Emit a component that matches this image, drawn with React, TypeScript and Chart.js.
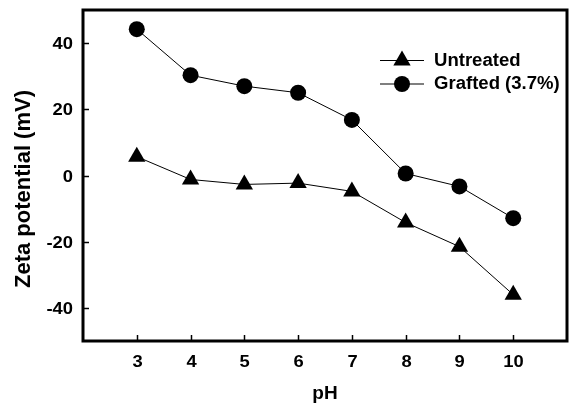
import React, { useEffect, useRef } from "react";
import { Chart, registerables } from "chart.js";

Chart.register(...registerables);

const phValues = [3, 4, 5, 6, 7, 8, 9, 10];
const untreated = [5.7, -1.2, -2.7, -2.3, -4.8, -14.2, -21.5, -36];
const grafted = [44.2, 30.3, 27, 25, 16.8, 0.6, -3.3, -12.9];
const xTicks = [3, 4, 5, 6, 7, 8, 9, 10];
const yTicks = [-40, -20, 0, 20, 40];
const seriesLabels = ["Untreated", "Grafted (3.7%)"];
const xTitle = "pH";
const yTitle = "Zeta potential (mV)";

const FONT = "'Liberation Sans', Arial, sans-serif";

function drawText(
  ctx: CanvasRenderingContext2D,
  text: string,
  x: number,
  y: number,
  size: number,
  align: CanvasTextAlign,
  sx = 1,
  rot = 0
) {
  ctx.save();
  ctx.translate(x, y);
  if (rot) ctx.rotate(rot);
  ctx.scale(sx, 1);
  ctx.font = `bold ${size}px ${FONT}`;
  ctx.textAlign = align;
  ctx.textBaseline = "middle";
  ctx.fillStyle = "#000";
  ctx.fillText(text, 0, 0);
  ctx.restore();
}

const framePlugin = {
  id: "frame",
  afterDraw(chart: any) {
    const { ctx, chartArea } = chart;
    const { left, right, top, bottom } = chartArea;
    ctx.save();
    ctx.strokeStyle = "#000";
    ctx.lineWidth = 3;
    ctx.strokeRect(left, top, right - left, bottom - top);
    ctx.lineWidth = 1.5;
    const xs = chart.scales.x;
    const ys = chart.scales.y;
    xTicks.forEach((v) => {
      const px = Math.round(xs.getPixelForValue(v)) + 0.5;
      ctx.beginPath();
      ctx.moveTo(px, bottom);
      ctx.lineTo(px, bottom - 6);
      ctx.stroke();
      drawText(ctx, String(v), px, bottom + 21, 17, "center", 1.08);
    });
    yTicks.forEach((v) => {
      const py = Math.round(ys.getPixelForValue(v)) + 0.5;
      ctx.beginPath();
      ctx.moveTo(left, py);
      ctx.lineTo(left + 6, py);
      ctx.stroke();
      drawText(ctx, String(v), left - 10, py + 1, 17, "right", 1.08);
    });
    drawText(ctx, xTitle, (left + right) / 2, 394, 19, "center");
    drawText(ctx, yTitle, 24, 189, 22, "center", 1, -Math.PI / 2);
    // legend
    const lx0 = 380;
    const lx1 = 424;
    const rows = [60.5, 84];
    chart.data.datasets.forEach((ds: any, i: number) => {
      const y = rows[i];
      ctx.strokeStyle = "#000";
      ctx.lineWidth = 1.2;
      ctx.beginPath();
      ctx.moveTo(lx0, y);
      ctx.lineTo(lx1, y);
      ctx.stroke();
      ctx.fillStyle = "#000";
      if (ds.pointStyle === "triangle") {
        const r = 10;
        ctx.beginPath();
        ctx.moveTo(402, y - r);
        ctx.lineTo(402 + r * 0.866, y + r * 0.5);
        ctx.lineTo(402 - r * 0.866, y + r * 0.5);
        ctx.closePath();
        ctx.fill();
      } else {
        ctx.beginPath();
        ctx.arc(402, y, 8, 0, Math.PI * 2);
        ctx.fill();
      }
      drawText(ctx, ds.label, 434, y + 0.5, 17.5, "left", 1.06);
    });
    ctx.restore();
  },
};

export default function App() {
  const ref = useRef<HTMLCanvasElement | null>(null);
  useEffect(() => {
    document.body.style.margin = "0";
    const canvas = ref.current!;
    const chart = new Chart(canvas, {
      type: "line",
      data: {
        datasets: [
          {
            label: seriesLabels[0],
            data: phValues.map((x, i) => ({ x, y: untreated[i] })),
            borderColor: "#000",
            borderWidth: 1,
            backgroundColor: "#000",
            pointStyle: "triangle",
            pointRadius: 10,
            pointBorderWidth: 0,
            pointBackgroundColor: "#000",
          },
          {
            label: seriesLabels[1],
            data: phValues.map((x, i) => ({ x, y: grafted[i] })),
            borderColor: "#000",
            borderWidth: 1,
            backgroundColor: "#000",
            pointStyle: "circle",
            pointRadius: 8,
            pointBorderWidth: 0,
            pointBackgroundColor: "#000",
          },
        ],
      },
      options: {
        animation: false,
        responsive: false,
        maintainAspectRatio: false,
        layout: { autoPadding: false, padding: { top: 10, right: 2, left: 0, bottom: 0 } },
        plugins: { legend: { display: false }, tooltip: { enabled: false } },
        scales: {
          x: {
            type: "linear",
            min: 2,
            max: 11,
            grid: { display: false, drawTicks: false },
            border: { display: false },
            ticks: { display: false },
            afterFit: (s: any) => {
              s.height = 64;
            },
          },
          y: {
            type: "linear",
            min: -50,
            max: 50,
            grid: { display: false, drawTicks: false },
            border: { display: false },
            ticks: { display: false },
            afterFit: (s: any) => {
              s.width = 83;
            },
          },
        },
      },
      plugins: [framePlugin],
    } as any);
    return () => chart.destroy();
  }, []);
  return <canvas ref={ref} width={569} height={405} style={{ display: "block" }} />;
}
